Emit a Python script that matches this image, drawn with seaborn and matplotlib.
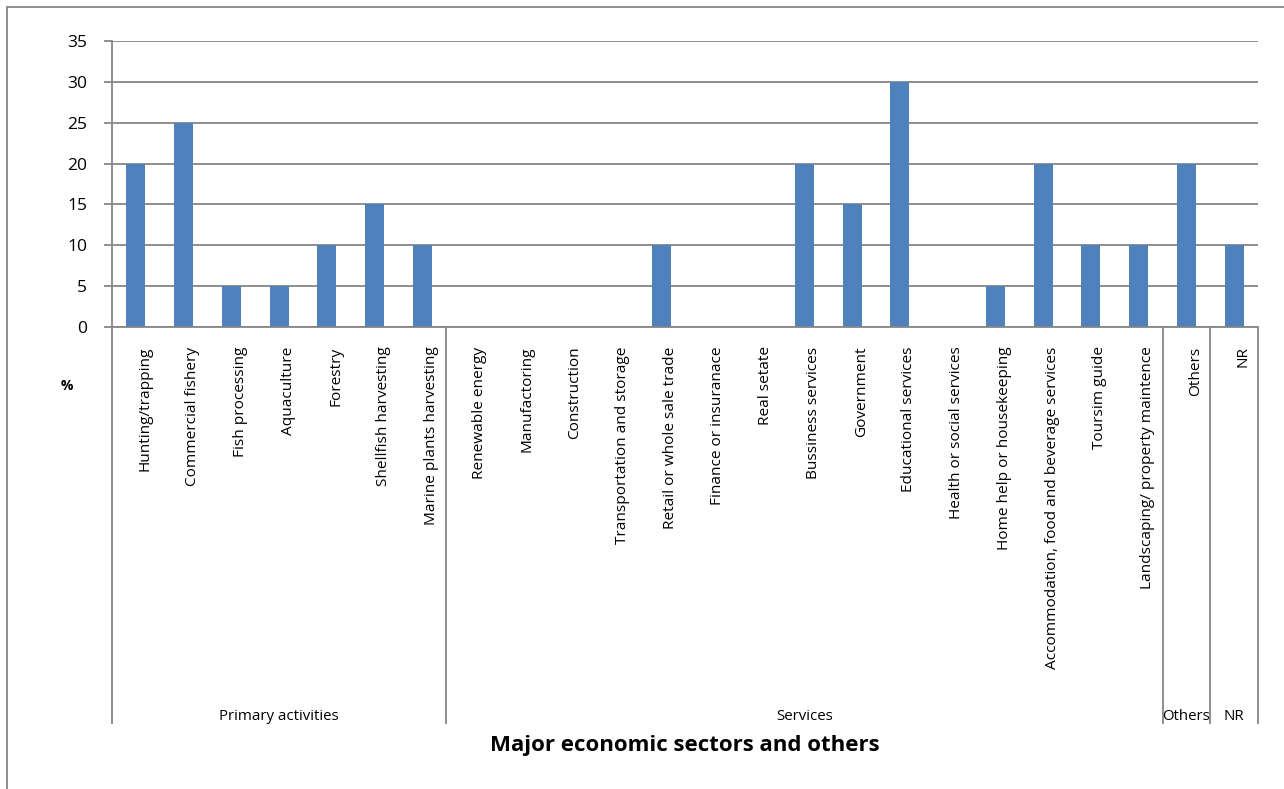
import matplotlib
matplotlib.use("Agg")
import matplotlib.pyplot as plt
import matplotlib.transforms as mtransforms
import seaborn as sns
import pandas as pd

categories = [
    "Hunting/trapping", "Commercial fishery", "Fish processing", "Aquaculture",
    "Forestry", "Shellfish harvesting", "Marine plants harvesting",
    "Renewable energy", "Manufactoring", "Construction", "Transportation and storage",
    "Retail or whole sale trade", "Finance or insuranace", "Real setate",
    "Bussiness services", "Government", "Educational services",
    "Health or social services", "Home help or housekeeping",
    "Accommodation, food and beverage services", "Toursim guide",
    "Landscaping/ property maintence", "Others", "NR",
]
values = [20, 25, 5, 5, 10, 15, 10,
          0, 0, 0, 0, 10, 0, 0, 20, 15, 30, 0, 5, 20, 10, 10,
          20, 10]
groups = ["Primary activities", "Services", "Others", "NR"]
group_sizes = [7, 15, 1, 1]
yticks = [0, 5, 10, 15, 20, 25, 30, 35]

sns.set_theme(style="white")
plt.rcParams["font.family"] = ["Open Sans", "DejaVu Sans"]
plt.rcParams["text.color"] = "black"
plt.rcParams["xtick.labelcolor"] = "black"
plt.rcParams["ytick.labelcolor"] = "black"

W, H = 1284, 789
fig = plt.figure(figsize=(W / 100, H / 100), dpi=100)
ax = fig.add_axes([112 / W, 1 - 327 / H, (1258 - 112) / W, (327 - 41) / H])

df = pd.DataFrame({"cat": categories, "val": values})
sns.barplot(data=df, x="cat", y="val", ax=ax, color="#4F81BD", width=0.4,
            saturation=1, edgecolor="none")

gray = "#868686"
ax.set_ylim(0, 35)
ax.set_xlim(-0.5, len(categories) - 0.5)
ax.set_yticks(yticks)
ax.yaxis.grid(True, color=gray, linewidth=1.3)
ax.set_axisbelow(True)
ax.tick_params(axis="y", length=6, width=1.3, color=gray, labelsize=12.5,
               pad=12, left=True, labelcolor="black")
ax.tick_params(axis="x", length=0, pad=14, labelcolor="black")
ax.set_xticks(range(len(categories)))
ax.set_xticklabels(categories, rotation=90, va="top", ha="center", fontsize=11.1)
offset = mtransforms.ScaledTranslation(9 / 100, 0, fig.dpi_scale_trans)
for lbl in ax.get_xticklabels():
    lbl.set_transform(lbl.get_transform() + offset)
ax.set_xlabel("")
ax.set_ylabel("")
for s in ["top", "right"]:
    ax.spines[s].set_visible(False)
ax.spines["left"].set_color(gray)
ax.spines["left"].set_linewidth(1.3)
ax.spines["bottom"].set_color(gray)
ax.spines["bottom"].set_linewidth(1.3)

trans = mtransforms.blended_transform_factory(ax.transData, ax.transAxes)
y_bottom = -(724 - 327) / (327 - 41)
bounds = [-0.5]
acc = -0.5
for n in group_sizes:
    acc += n
    bounds.append(acc)
for b in bounds:
    ax.plot([b, b], [0, y_bottom], transform=trans, color=gray, lw=1.3,
            clip_on=False, solid_capstyle="butt")

# group labels
y_grp = -(716 - 327) / (327 - 41)
for i, g in enumerate(groups):
    center = (bounds[i] + bounds[i + 1]) / 2
    ax.text(center, y_grp, g, transform=trans, ha="center", va="center",
            fontsize=10.8, color="black")

# % label
fig.text(67 / W, 1 - 386 / H, "%", ha="center", va="center", fontsize=10,
         fontweight="bold", color="black")

# axis title
fig.text(685 / W, 1 - 746 / H, "Major economic sectors and others",
         ha="center", va="center", fontsize=16, fontweight="bold", color="black")

# outer chart border (top and left visible)
fig.add_artist(plt.Line2D([7 / W, 1.0], [1 - 7 / H, 1 - 7 / H],
                          transform=fig.transFigure, color=gray, lw=1.3))
fig.add_artist(plt.Line2D([7 / W, 7 / W], [0, 1 - 7 / H],
                          transform=fig.transFigure, color=gray, lw=1.3))

fig.savefig("out.png", dpi=100, facecolor="white")
